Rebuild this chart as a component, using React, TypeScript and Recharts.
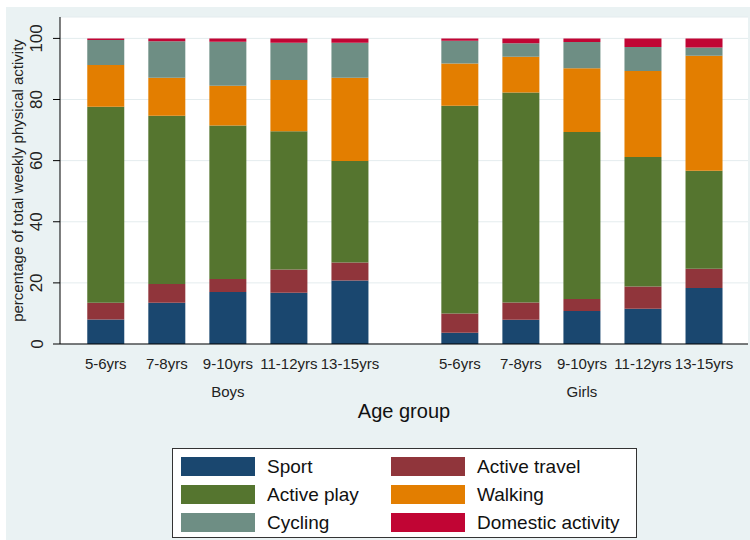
import React from 'react';
import { BarChart, Bar, XAxis, YAxis, CartesianGrid, Label } from 'recharts';

const ageGroups = ['5-6yrs', '7-8yrs', '9-10yrs', '11-12yrs', '13-15yrs'];
const sexes = ['Boys', 'Girls'];

// boys 5 age groups, then girls 5 age groups
const sport = [8.0, 13.5, 17.0, 16.8, 20.8, 3.7, 7.9, 10.8, 11.5, 18.3];
const activeTravel = [5.5, 6.1, 4.3, 7.6, 5.9, 6.3, 5.7, 3.9, 7.3, 6.3];
const activePlay = [64.1, 55.1, 50.2, 45.2, 33.2, 68.0, 68.7, 54.7, 42.4, 32.1];
const walking = [13.7, 12.4, 13.0, 16.8, 27.2, 13.8, 11.7, 20.8, 28.1, 37.6];
const cycling = [8.2, 12.0, 14.4, 12.2, 11.5, 7.4, 4.4, 8.6, 7.9, 2.7];
const domestic = [0.5, 0.9, 1.1, 1.4, 1.4, 0.8, 1.6, 1.2, 2.8, 3.0];

const yTicks = [0, 20, 40, 60, 80, 100];

const series = [
    { key: 'sport', name: 'Sport', color: '#1a476f', values: sport },
    { key: 'activeTravel', name: 'Active travel', color: '#90353b', values: activeTravel },
    { key: 'activePlay', name: 'Active play', color: '#55752f', values: activePlay },
    { key: 'walking', name: 'Walking', color: '#e37e00', values: walking },
    { key: 'cycling', name: 'Cycling', color: '#6e8e84', values: cycling },
    { key: 'domestic', name: 'Domestic activity', color: '#c10534', values: domestic },
];

const GROUP_GAP = 0.8;
const FONT = '"Liberation Sans", Arial, sans-serif';

const data = sexes.flatMap((sex, s) =>
    ageGroups.map((age, a) => {
        const i = s * ageGroups.length + a;
        const row: Record<string, string | number> = {
            pos: s * (ageGroups.length + GROUP_GAP) + a,
            age,
            sex,
            ageIndex: a,
        };
        series.forEach((sr) => {
            row[sr.key] = sr.values[i];
        });
        return row;
    })
);

const XTick = (props: any) => {
    const { x, y, payload } = props;
    const row = data.find((d) => d.pos === payload.value);
    if (!row) return null;
    return (
        <g>
            <text x={x} y={y + 17} textAnchor="middle" dominantBaseline="central" fontSize={15} fill="#222" fontFamily={FONT}>
                {row.age}
            </text>
            {row.ageIndex === 2 && (
                <text x={x} y={y + 45} textAnchor="middle" dominantBaseline="central" fontSize={15} fill="#222" fontFamily={FONT}>
                    {row.sex}
                </text>
            )}
        </g>
    );
};

const YTick = (props: any) => {
    const { x, y, payload } = props;
    const cx = x - 14;
    return (
        <text
            x={cx}
            y={y}
            textAnchor="middle"
            dominantBaseline="central"
            fontSize={17}
            fill="#222"
            fontFamily={FONT}
            transform={`rotate(-90, ${cx}, ${y})`}
        >
            {payload.value}
        </text>
    );
};

const LegendBox = () => (
    <div
        style={{
            position: 'absolute',
            left: 172,
            top: 448,
            width: 465,
            height: 90,
            background: '#fff',
            border: '1px solid #333',
            boxSizing: 'border-box',
            display: 'grid',
            gridTemplateColumns: '210px 230px',
            gridAutoRows: '28px',
            paddingLeft: 8,
            paddingTop: 8,
            fontFamily: FONT,
            fontSize: 19,
            color: '#111',
        }}
    >
        {series.map((s) => (
            <div key={s.key} style={{ display: 'flex', alignItems: 'center', height: 19 }}>
                <div style={{ width: 74, height: 19, background: s.color, marginRight: 12 }} />
                <span>{s.name}</span>
            </div>
        ))}
    </div>
);

export default function App() {
    const ticks = data.map((d) => d.pos as number);
    return (
        <div style={{ position: 'absolute', left: 0, top: 0, width: 750, height: 540, background: '#fff' }}>
            <div style={{ position: 'absolute', left: 6, top: 7, right: 0, bottom: 0, background: '#eaf2f3' }} />
            <div style={{ position: 'absolute', left: 0, top: 0 }}>
                <BarChart width={750} height={540} data={data} margin={{ top: 17, right: 2, bottom: 96, left: 0 }}>
                    <CartesianGrid vertical={false} fill="#ffffff" stroke="#e4ecee" />
                    <XAxis
                        dataKey="pos"
                        type="number"
                        domain={[-0.75, 10.52]}
                        ticks={ticks}
                        interval={0}
                        height={100}
                        tick={<XTick />}
                        tickLine={false}
                        tickSize={0}
                        axisLine={{ stroke: '#000' }}
                        allowDecimals
                    >
                        <Label
                            content={(p: any) => {
                                const vb = p.viewBox;
                                return (
                                    <text
                                        x={vb.x + vb.width / 2}
                                        y={vb.y + 67}
                                        textAnchor="middle"
                                        dominantBaseline="central"
                                        fontSize={20}
                                        fill="#111"
                                        fontFamily={FONT}
                                    >
                                        Age group
                                    </text>
                                );
                            }}
                        />
                    </XAxis>
                    <YAxis
                        width={60}
                        domain={[0, 107]}
                        ticks={yTicks}
                        tick={<YTick />}
                        tickSize={7}
                        tickLine={{ stroke: '#000' }}
                        axisLine={{ stroke: '#000' }}
                    >
                        <Label
                            content={(p: any) => {
                                const vb = p.viewBox;
                                const cy = vb.y + vb.height / 2;
                                return (
                                    <text
                                        x={17}
                                        y={cy}
                                        textAnchor="middle"
                                        dominantBaseline="central"
                                        fontSize={15}
                                        fill="#222"
                                        fontFamily={FONT}
                                        transform={`rotate(-90, 17, ${cy})`}
                                    >
                                        percentage of total weekly physical activity
                                    </text>
                                );
                            }}
                        />
                    </YAxis>
                    {series.map((s) => (
                        <Bar
                            key={s.key}
                            dataKey={s.key}
                            name={s.name}
                            stackId="a"
                            fill={s.color}
                            barSize={37}
                            isAnimationActive={false}
                        />
                    ))}
                </BarChart>
            </div>
            <LegendBox />
        </div>
    );
}
